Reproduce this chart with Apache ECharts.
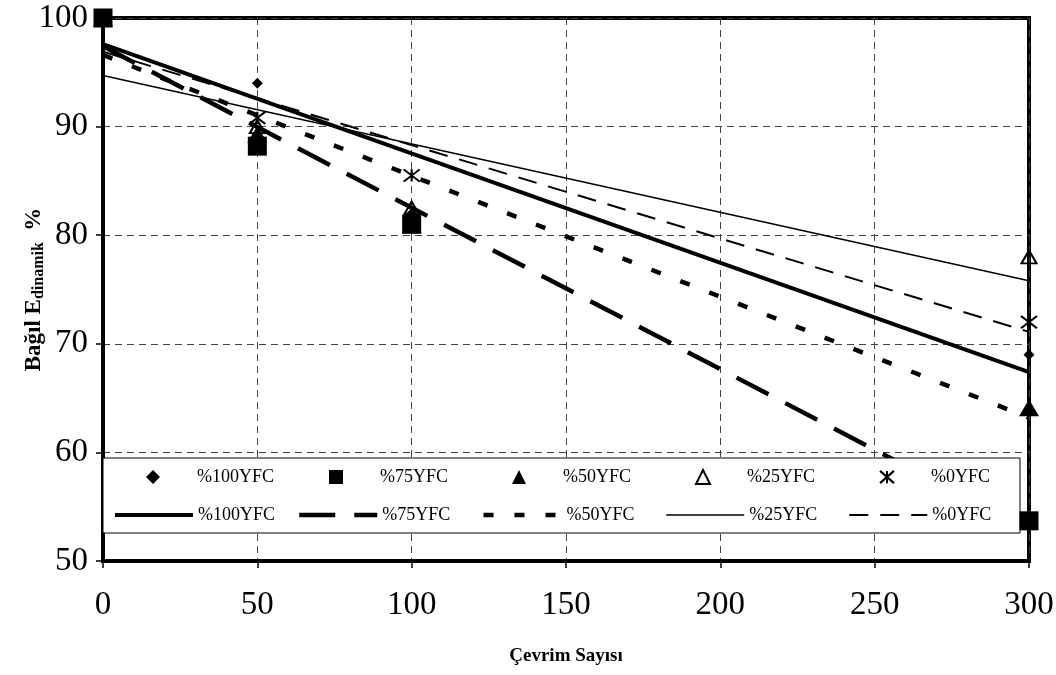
<!DOCTYPE html>
<html>
<head>
<meta charset="utf-8">
<style>
  html, body { margin: 0; padding: 0; background: #fff; }
  #chart { width: 1056px; height: 675px; }
</style>
<script src="https://cdn.jsdelivr.net/npm/echarts@6/dist/echarts.min.js"></script>
</head>
<body>
<div id="chart"></div>
<script>
// Freeze-thaw cycles and relative dynamic modulus (%) for each mix
var cycles = [0, 50, 100, 300];
var names = ['%100YFC', '%75YFC', '%50YFC', '%25YFC', '%0YFC'];

var measured100 = [100, 94, 82, 69];
var measured75 = [100, 88.2, 81, 53.7];
var measured50 = [100, 89.3, 81, 64.1];
var measured25 = [100, 90, 82.5, 78];
var measured0 = [100, 90.8, 85.5, 72];

// Linear trend lines: value at the first and last cycle count
var trendX = [0, 300];
var trend100 = [97.6, 67.4];
var trend75 = [97.4, 52.8];
var trend50 = [96.6, 63.2];
var trend25 = [94.7, 75.8];
var trend0 = [96.9, 71.1];

var xTicks = { min: 0, max: 300, interval: 50 };
var yTicks = { min: 50, max: 100, interval: 10 };

function pairs(xs, ys) {
  return xs.map(function (x, i) { return [x, ys[i]]; });
}

var serif = "'Liberation Serif', 'Times New Roman', serif";
var starPath = 'path://M0,0L16,14M16,0L0,14M8,0L8,14';

var markerDefs = [
  { data: measured100, symbol: 'diamond', size: 11, style: { color: '#000', opacity: 1 } },
  { data: measured75, symbol: 'rect', size: 19, style: { color: '#000', opacity: 1 } },
  { data: measured50, symbol: 'triangle', size: [20, 17], style: { color: '#000', opacity: 1 } },
  { data: measured25, symbol: 'triangle', size: [15, 13], style: { color: 'rgba(0,0,0,0)', borderColor: '#000', borderWidth: 2, opacity: 1 } },
  { data: measured0, symbol: starPath, size: [16, 14], style: { color: 'rgba(0,0,0,0)', borderColor: '#000', borderWidth: 2, opacity: 1 } }
];

var trendDefs = [
  { data: trend100, width: 4, type: 'solid' },
  { data: trend75, width: 4.5, type: [36, 19] },
  { data: trend50, width: 4.5, type: [10, 21] },
  { data: trend25, width: 1.5, type: 'solid' },
  { data: trend0, width: 2, type: [19, 12] }
];

var series = [];
markerDefs.forEach(function (d, i) {
  series.push({
    name: names[i],
    type: 'scatter',
    data: pairs(cycles, d.data),
    symbol: d.symbol,
    symbolSize: d.size,
    symbolKeepAspect: true,
    itemStyle: d.style,
    z: 5
  });
});
trendDefs.forEach(function (d, i) {
  series.push({
    name: names[i] + ' ',
    type: 'line',
    data: pairs(trendX, d.data),
    showSymbol: false,
    symbol: 'none',
    lineStyle: { color: '#000', width: d.width, type: d.type },
    itemStyle: { color: '#000' },
    z: 3,
    silent: true
  });
});

var legendFont = { fontFamily: serif, fontSize: 18, color: '#000', lineHeight: 20, overflow: 'none' };

var option = {
  animation: false,
  backgroundColor: '#fff',
  grid: {
    left: 103, right: 27, top: 18, bottom: 114,
    containLabel: false,
    outerBoundsMode: 'none',
    show: true, borderColor: '#000', borderWidth: 4, backgroundColor: 'transparent'
  },
  legend: [
    {
      // markers row, its frame also encloses the trend-line row
      data: names,
      left: 103, top: 458,
      orient: 'horizontal',
      itemWidth: 14, itemHeight: 14, itemGap: 44,
      symbolKeepAspect: true,
      padding: [9, 1, 46, 43],
      backgroundColor: '#fff',
      borderColor: '#000', borderWidth: 1,
      textStyle: Object.assign({ width: 88, padding: [0, 0, 0, 32] }, legendFont),
      selectedMode: false
    },
    {
      // trend-line row
      data: names.map(function (n, i) {
        return {
          name: n + ' ',
          lineStyle: { color: '#000', width: trendDefs[i].width, type: trendDefs[i].type }
        };
      }),
      formatter: function (n) { return n.trim(); },
      left: 113, top: 505,
      orient: 'horizontal',
      itemWidth: 78, itemHeight: 14, itemGap: 11,
      padding: 0,
      itemStyle: { color: 'rgba(0,0,0,0)', borderWidth: 0 },
      textStyle: Object.assign({ width: 88 }, legendFont),
      selectedMode: false
    }
  ],
  xAxis: {
    type: 'value',
    min: xTicks.min, max: xTicks.max, interval: xTicks.interval,
    name: 'Çevrim Sayısı',
    nameLocation: 'middle',
    nameGap: 86,
    nameMoveOverlap: false,
    nameTextStyle: { fontFamily: serif, fontSize: 19, fontWeight: 'bold', color: '#000' },
    axisLine: { show: true, lineStyle: { color: '#000', width: 4 } },
    axisTick: { show: true, inside: false, length: 7, lineStyle: { color: '#000', width: 1.5 } },
    axisLabel: { fontFamily: serif, fontSize: 33, color: '#000', margin: 28 },
    splitLine: { show: true, lineStyle: { color: '#444', width: 1, type: [7, 5] } }
  },
  yAxis: {
    type: 'value',
    min: yTicks.min, max: yTicks.max, interval: yTicks.interval,
    name: '{a|Bağıl E}{s|dinamik}{a|  %}',
    nameLocation: 'middle',
    nameGap: 56,
    nameMoveOverlap: false,
    nameRotate: 90,
    nameTextStyle: {
      rich: {
        a: { fontFamily: serif, fontSize: 23, fontWeight: 'bold', color: '#000', lineHeight: 24, verticalAlign: 'top' },
        s: { fontFamily: serif, fontSize: 16, fontWeight: 'bold', color: '#000', lineHeight: 17, verticalAlign: 'bottom' }
      }
    },
    axisLine: { show: true, lineStyle: { color: '#000', width: 4 } },
    axisTick: { show: true, inside: false, length: 7, lineStyle: { color: '#000', width: 1.5 } },
    axisLabel: { fontFamily: serif, fontSize: 33, color: '#000', margin: 15 },
    splitLine: { show: true, lineStyle: { color: '#444', width: 1, type: [7, 5] } }
  },
  series: series
};

var chart = echarts.init(document.getElementById('chart'), null, { renderer: 'canvas' });
chart.setOption(option);
</script>
</body>
</html>
